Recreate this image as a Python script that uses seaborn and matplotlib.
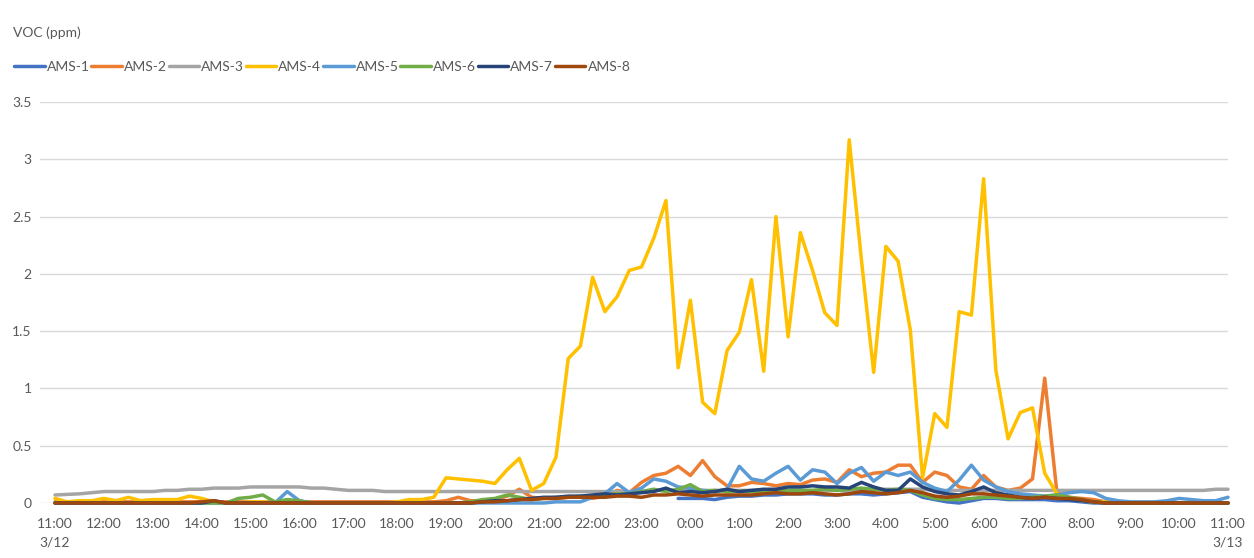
import numpy as np
import pandas as pd
import matplotlib
matplotlib.use("Agg")
import matplotlib.pyplot as plt
import seaborn as sns

# 15-minute readings, 11:00 3/12 -> 11:00 3/13 (97 points)
nan = np.nan

ams1 = [nan] * 51 + [
    0.04, 0.04, 0.04, 0.03, 0.05, 0.06, 0.06, 0.07, 0.07, 0.08,
    0.08, 0.08, 0.07, 0.07, 0.08, 0.08, 0.07, 0.08, 0.09, 0.10,
    0.05, 0.03, 0.01, 0.00, 0.02, 0.04, 0.04, 0.03, 0.03, 0.03,
    0.03, 0.02, 0.02, 0.01, 0.00, 0.00, 0.00, 0.00, 0.00, 0.00,
    0.00, 0.00, 0.00, 0.00, 0.00, 0.00]

ams2 = [0.01] * 32 + [
    0.02, 0.05, 0.02, 0.02, 0.03, 0.06, 0.12, 0.05, 0.04, 0.04,
    0.05, 0.05, 0.04, 0.06, 0.11, 0.09, 0.18, 0.24, 0.26, 0.32,
    0.24, 0.37, 0.23, 0.15, 0.15, 0.18, 0.17, 0.15, 0.17, 0.16,
    0.20, 0.21, 0.18, 0.29, 0.23, 0.26, 0.27, 0.33, 0.33, 0.18,
    0.27, 0.24, 0.14, 0.12, 0.24, 0.14, 0.11, 0.13, 0.21, 1.09,
    0.09, 0.05, 0.04, 0.03, 0.01, 0.00, 0.00, 0.00, 0.00, 0.00,
    0.00, 0.00, 0.00, 0.00, 0.00]

ams3 = [
    0.07, 0.075, 0.08, 0.09, 0.10, 0.10, 0.10, 0.10, 0.10, 0.11,
    0.11, 0.12, 0.12, 0.13, 0.13, 0.13, 0.14, 0.14, 0.14, 0.14,
    0.14, 0.13, 0.13, 0.12, 0.11, 0.11, 0.11, 0.10, 0.10, 0.10,
    0.10, 0.10, 0.10, 0.10, 0.10, 0.10, 0.10, 0.10, 0.10, 0.10,
    0.10, 0.10, 0.10, 0.10, 0.10, 0.10, 0.10, 0.10, 0.10, 0.11,
    0.11, 0.11, 0.11, 0.11, 0.11, 0.11, 0.11, 0.11, 0.11, 0.11,
    0.11, 0.11, 0.11, 0.11, 0.11, 0.11, 0.11, 0.12, 0.12, 0.12,
    0.12, 0.12, 0.11, 0.11, 0.11, 0.11, 0.11, 0.11, 0.11, 0.11,
    0.11, 0.11, 0.11, 0.11, 0.11, 0.11, 0.11, 0.11, 0.11, 0.11,
    0.11, 0.11, 0.11, 0.11, 0.11, 0.12, 0.12]

ams4 = [
    0.04, 0.01, 0.02, 0.02, 0.04, 0.02, 0.05, 0.02, 0.03, 0.03,
    0.03, 0.06, 0.04, 0.01, 0.00, 0.00, 0.01, 0.01, 0.00, 0.00,
    0.00, 0.00, 0.00, 0.00, 0.00, 0.00, 0.00, 0.00, 0.01, 0.03,
    0.03, 0.05, 0.22, 0.21, 0.20, 0.19, 0.17, 0.29, 0.39, 0.11,
    0.17, 0.40, 1.26, 1.37, 1.97, 1.67, 1.80, 2.03, 2.06, 2.31,
    2.64, 1.18, 1.77, 0.88, 0.78, 1.33, 1.49, 1.95, 1.15, 2.50,
    1.45, 2.36, 2.03, 1.66, 1.55, 3.17, 2.12, 1.14, 2.24, 2.11,
    1.51, 0.22, 0.78, 0.66, 1.67, 1.64, 2.83, 1.16, 0.56, 0.79,
    0.83, 0.26, 0.08, 0.04, 0.02, 0.01, 0.01, 0.00, 0.00, 0.00,
    0.00, 0.00, 0.00, 0.00, 0.00, 0.00, 0.00]

ams5 = [0.00] * 19 + [0.10, 0.02] + [0.00] * 20 + [
    0.01, 0.01, 0.01, 0.05, 0.08, 0.17, 0.09, 0.13, 0.21, 0.19,
    0.14, 0.13, 0.11, 0.10, 0.12, 0.32, 0.21, 0.19, 0.26, 0.32,
    0.20, 0.29, 0.27, 0.17, 0.26, 0.31, 0.19, 0.27, 0.24, 0.27,
    0.18, 0.13, 0.10, 0.20, 0.33, 0.20, 0.14, 0.10, 0.08, 0.07,
    0.06, 0.07, 0.09, 0.10, 0.09, 0.04, 0.02, 0.01, 0.01, 0.01,
    0.02, 0.04, 0.03, 0.02, 0.02, 0.05]

ams6 = [0.00] * 15 + [0.04, 0.05, 0.07, 0.01, 0.03, 0.02] + [0.00] * 13 + [
    0.01, 0.03, 0.04, 0.07, 0.05, 0.03, 0.04, 0.05, 0.05, 0.06,
    0.06, 0.07, 0.08, 0.08, 0.10, 0.12, 0.10, 0.12, 0.16, 0.10,
    0.11, 0.10, 0.10, 0.10, 0.10, 0.11, 0.11, 0.11, 0.11, 0.12,
    0.11, 0.12, 0.13, 0.12, 0.11, 0.12, 0.11, 0.07, 0.04, 0.03,
    0.03, 0.04, 0.05, 0.05, 0.04, 0.04, 0.05, 0.06, 0.07, 0.05,
    0.03, 0.01, 0.00, 0.00, 0.00, 0.00, 0.00, 0.00, 0.00, 0.00,
    0.00, 0.00, 0.00]

ams7 = [0.00] * 13 + [0.02] + [0.00] * 21 + [
    0.01, 0.02, 0.02, 0.03, 0.04, 0.05, 0.05, 0.06, 0.06, 0.07,
    0.08, 0.07, 0.08, 0.09, 0.10, 0.13, 0.09, 0.10, 0.09, 0.10,
    0.12, 0.10, 0.11, 0.12, 0.12, 0.14, 0.14, 0.15, 0.14, 0.14,
    0.13, 0.18, 0.14, 0.11, 0.11, 0.21, 0.14, 0.10, 0.08, 0.07,
    0.10, 0.14, 0.09, 0.07, 0.05, 0.04, 0.05, 0.04, 0.03, 0.02,
    0.01, 0.00, 0.00, 0.00, 0.00, 0.00, 0.00, 0.00, 0.00, 0.00,
    0.00, 0.00]

ams8 = [0.00] * 12 + [0.01, 0.02] + [0.00] * 21 + [
    0.01, 0.01, 0.02, 0.03, 0.03, 0.04, 0.04, 0.05, 0.05, 0.05,
    0.05, 0.06, 0.06, 0.05, 0.07, 0.07, 0.08, 0.07, 0.06, 0.07,
    0.07, 0.07, 0.07, 0.08, 0.09, 0.08, 0.08, 0.09, 0.08, 0.07,
    0.08, 0.10, 0.09, 0.08, 0.09, 0.11, 0.09, 0.06, 0.05, 0.06,
    0.08, 0.08, 0.07, 0.06, 0.05, 0.04, 0.05, 0.04, 0.04, 0.03,
    0.01, 0.00, 0.00, 0.00, 0.00, 0.00, 0.00, 0.00, 0.00, 0.00,
    0.00, 0.00]

series_names = ["AMS-1", "AMS-2", "AMS-3", "AMS-4", "AMS-5", "AMS-6", "AMS-7", "AMS-8"]
series_vals = [ams1, ams2, ams3, ams4, ams5, ams6, ams7, ams8]
colors = ["#4472C4", "#ED7D31", "#A5A5A5", "#FFC000",
          "#5B9BD5", "#70AD47", "#264478", "#9E480E"]

hour_labels = ["11:00\n3/12", "12:00", "13:00", "14:00", "15:00", "16:00", "17:00",
               "18:00", "19:00", "20:00", "21:00", "22:00", "23:00", "0:00",
               "1:00", "2:00", "3:00", "4:00", "5:00", "6:00", "7:00", "8:00",
               "9:00", "10:00", "11:00\n3/13"]

rows = []
for name, vals in zip(series_names, series_vals):
    for i, v in enumerate(vals):
        rows.append({"step": i, "voc": v, "sensor": name})
df = pd.DataFrame(rows)

sns.set_style("white")
plt.rcParams["font.family"] = ["Lato", "DejaVu Sans"]
text_col = "#595959"

fig = plt.figure(figsize=(12.54, 5.58), dpi=100)
ax = fig.add_axes([40 / 1254, 1 - 503 / 558, (1228 - 40) / 1254, (503 - 102) / 558])

for name, col in zip(series_names, colors):
    sub = df[df["sensor"] == name]
    sns.lineplot(data=sub, x="step", y="voc", color=col, linewidth=2.5,
                 label=name, ax=ax, clip_on=False)

ax.set_xlim(-1.23, 96)
ax.set_ylim(0, 3.5)
ax.set_yticks(np.arange(0, 3.51, 0.5))
ax.set_yticklabels(["0", "0.5", "1", "1.5", "2", "2.5", "3", "3.5"])
ax.set_xticks(np.arange(0, 97, 4))
ax.set_xticklabels(hour_labels, linespacing=1.65)
ax.tick_params(axis="both", length=0, labelsize=10, labelcolor=text_col)
ax.tick_params(axis="x", pad=11)
ax.tick_params(axis="y", pad=6)
ax.grid(axis="y", color="#D9D9D9", linewidth=1)
ax.set_axisbelow(True)
ax.set_xlabel("")
ax.set_ylabel("")
for s in ["top", "right", "left", "bottom"]:
    ax.spines[s].set_visible(False)

fig.text(13 / 1254, 1 - 33 / 558, "VOC (ppm)", fontsize=10, color=text_col,
         ha="left", va="center")

ax.legend(loc="center left", bbox_to_anchor=(14 / 1254, 1 - 67 / 558),
          bbox_transform=fig.transFigure, ncol=8, frameon=False,
          fontsize=10, labelcolor=text_col, handlelength=2.2,
          handletextpad=0.15, columnspacing=0.12, borderpad=0, borderaxespad=0)

fig.savefig("out.png", dpi=100)
plt.close(fig)
